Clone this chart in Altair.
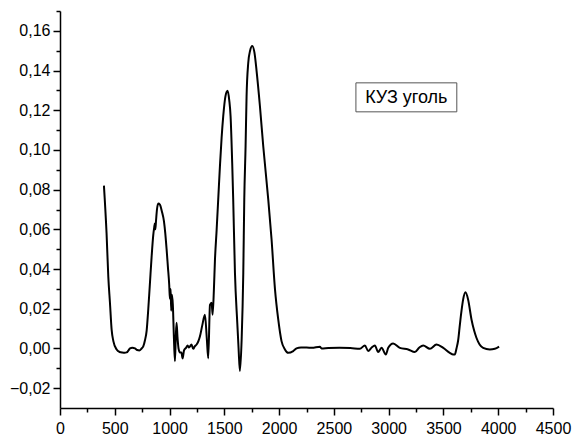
import altair as alt
import pandas as pd

# Spectrum trace (wavenumber, absorbance)
wavenumber = [401, 425, 441, 456, 471, 487, 517, 545, 563, 590, 608, 625, 639, 660, 684, 705, 724, 745, 760, 775,
              791, 806, 821, 836, 851, 860, 866, 870, 876, 885, 897, 912, 930, 949, 961, 973, 985, 997, 1003, 1010,
              1015, 1022, 1030, 1040, 1049, 1057, 1064, 1072, 1082, 1095, 1108, 1119, 1132, 1150, 1165, 1175, 1186,
              1200, 1216, 1230, 1247, 1262, 1277, 1300, 1323, 1340, 1353, 1369, 1384, 1393, 1405, 1414, 1430, 1445,
              1460, 1475, 1490, 1510, 1530, 1545, 1557, 1572, 1581, 1597, 1618, 1630, 1642, 1658, 1673, 1682, 1694,
              1703, 1718, 1735, 1755, 1775, 1794, 1825, 1855, 1901, 1931, 1962, 1992, 2022, 2053, 2083, 2129,
              2159, 2200, 2251, 2300, 2372, 2387, 2450, 2550, 2650, 2737, 2783, 2813, 2845, 2874, 2904, 2935, 2974,
              2996, 3041, 3102, 3178, 3239, 3280, 3315, 3376, 3437, 3498, 3558, 3589, 3604, 3619, 3634, 3650, 3665,
              3680, 3701, 3725, 3756, 3780, 3801, 3830, 3862, 3923, 3969, 4008]
absorbance = [0.082, 0.058, 0.036, 0.023, 0.0096, 0.0037, -0.0005, -0.0018, -0.002, -0.0022, -0.002, -0.001, 0.0,
              0.0003, 0.0, -0.0008, -0.001, 0.0, 0.001, 0.004, 0.009, 0.02, 0.033, 0.046, 0.057, 0.061, 0.063, 0.060,
              0.064, 0.070, 0.073, 0.0725, 0.069, 0.064, 0.058, 0.050, 0.041, 0.032, 0.025, 0.030, 0.019, 0.027,
              0.022, 0.005, -0.0064, 0.006, 0.013, 0.006, 0.0, -0.002, -0.002, -0.005, -0.001, 0.0003, 0.0015,
              0.0005, 0.001, 0.002, -0.0002, 0.001, 0.002, 0.0035, 0.006, 0.012, 0.017, 0.005, -0.005, 0.022, 0.023,
              0.017, 0.030, 0.044, 0.060, 0.076, 0.092, 0.106, 0.117, 0.127, 0.1298, 0.125, 0.117, 0.093, 0.075,
              0.038, 0.013, 0.0, -0.0114, 0.0045, 0.038, 0.075, 0.102, 0.127, 0.1437, 0.150, 0.1524, 0.149, 0.140,
              0.122, 0.102, 0.075, 0.055, 0.030, 0.0146, 0.0037, -0.0005, -0.0022, -0.0013, 0.0, 0.0005,
              0.0005, 0.0003, 0.0009, 0.0, 0.0002, 0.0003, 0.0002, -0.0002, 0.0015, -0.0013, 0.0005, 0.0015,
              -0.0018, 0.0003, -0.003, 0.0003, 0.0025, 0.0003, -0.0005, -0.0018, 0.0005, 0.0015, -0.0002, 0.002,
              0.0003, -0.0022, -0.003, -0.003, 0.0, 0.004, 0.012, 0.019, 0.0247, 0.0283, 0.0247, 0.0146, 0.009,
              0.0054, 0.002, 0.0003, -0.0005, -0.0002, 0.0009]

x_major = [0, 500, 1000, 1500, 2000, 2500, 3000, 3500, 4000, 4500]
x_minor = [250, 750, 1250, 1750, 2250, 2750, 3250, 3750, 4250]
y_major = [-0.02, 0.0, 0.02, 0.04, 0.06, 0.08, 0.10, 0.12, 0.14, 0.16]
y_minor = [-0.01, 0.01, 0.03, 0.05, 0.07, 0.09, 0.11, 0.13, 0.15, 0.17]
label_text = "КУЗ уголь"

df = pd.DataFrame({"x": wavenumber, "y": absorbance})

xs = alt.Scale(domain=[0, 4500], nice=False, zero=False)
ys = alt.Scale(domain=[-0.03, 0.17], nice=False, zero=False)

FONT = "Liberation Sans"
common = dict(grid=False, title=None, domainColor="black", domainWidth=1.5, tickColor="black",
              tickWidth=1.5, labelColor="black", labelFont=FONT, labelFontSize=16,
              labelFlush=False, labelOverlap=False)

x_axis_major = alt.Axis(orient="bottom", values=x_major, tickSize=7, labelPadding=5, format="d", **common)
y_axis_major = alt.Axis(orient="left", values=y_major, tickSize=7, labelPadding=3,
                        labelExpr="replace(format(datum.value, '.2f'), '.', ',')", **common)
x_axis_minor = alt.Axis(orient="bottom", values=x_minor, tickSize=4, labels=False, domain=False,
                        grid=False, title=None, tickColor="black", tickWidth=1.5)
y_axis_minor = alt.Axis(orient="left", values=y_minor, tickSize=4, labels=False, domain=False,
                        grid=False, title=None, tickColor="black", tickWidth=1.5)

base = alt.Chart(df)

minor = base.mark_line(opacity=0).encode(
    x=alt.X("x:Q", scale=xs, axis=x_axis_minor),
    y=alt.Y("y:Q", scale=ys, axis=y_axis_minor),
)

line = base.mark_line(color="black", strokeWidth=2, interpolate="monotone").encode(
    x=alt.X("x:Q", scale=xs, axis=x_axis_major),
    y=alt.Y("y:Q", scale=ys, axis=y_axis_major),
)

box = alt.Chart(pd.DataFrame({"t": [label_text]})).mark_rect(
    fill="white", stroke="#555555", strokeWidth=1
).encode(
    x=alt.datum(2701, scale=xs, axis=None),
    x2=alt.datum(3622),
    y=alt.datum(0.1338, scale=ys, axis=None),
    y2=alt.datum(0.1192),
)

text = alt.Chart(pd.DataFrame({"t": [label_text]})).mark_text(
    font=FONT, fontSize=18, color="black", align="center", baseline="middle"
).encode(
    x=alt.datum(3161, scale=xs, axis=None),
    y=alt.datum(0.1262, scale=ys, axis=None),
    text="t:N",
)

chart = alt.layer(minor, line, box, text).resolve_axis(
    x="independent", y="independent"
).properties(
    width=493, height=397,
    autosize=alt.AutoSizeParams(type="none"),
    padding={"left": 60, "top": 11, "right": 20, "bottom": 29},
    background="white",
).configure_view(stroke=None)

chart.save("out.html", embed_options={"renderer": "svg", "actions": False})
